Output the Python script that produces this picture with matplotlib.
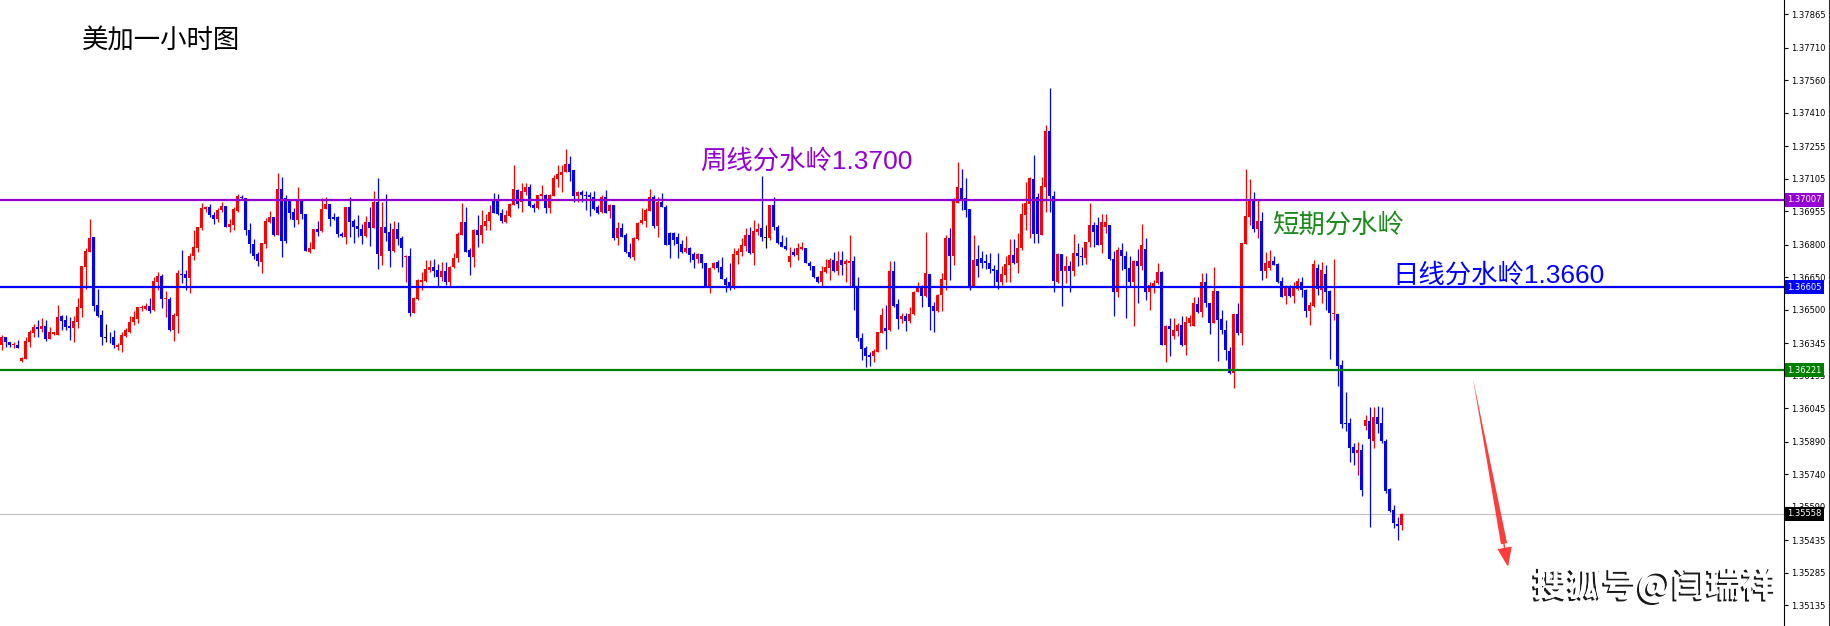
import matplotlib
matplotlib.use('Agg')
import matplotlib.pyplot as plt
import matplotlib.patheffects as pe
from matplotlib.lines import Line2D
import numpy as np

plt.rcParams['font.family'] = ['Noto Sans CJK SC', 'DejaVu Sans']

# 美加 1小时K线, 价格单位: 点 (0.00001)
opens = [
    136335, 136376, 136350, 136336, 136338, 136264, 136273, 136352, 136392, 136422,
    136412, 136427, 136367, 136387, 136384, 136472, 136453, 136427, 136418, 136445,
    136510, 136696, 136768, 136838, 136522, 136476, 136373, 136376, 136372, 136330,
    136335, 136381, 136399, 136445, 136456, 136507, 136505, 136518, 136499, 136630,
    136656, 136548, 136550, 136407, 136473, 136667, 136664, 136648, 136748, 136787,
    136876, 136967, 136974, 136939, 136918, 136961, 136979, 136882, 136891, 136958,
    137022, 137014, 136868, 136804, 136758, 136722, 136802, 136907, 136930, 136845,
    137057, 137014, 137010, 136953, 136914, 137010, 136942, 136768, 136779, 136873,
    136865, 136964, 136988, 136930, 136928, 136851, 136838, 136973, 136910, 136888,
    136873, 136842, 136907, 136879, 136999, 136748, 136884, 136858, 136773, 136873,
    136830, 136742, 136749, 136487, 136550, 136630, 136633, 136684, 136699, 136684,
    136653, 136679, 136626, 136696, 136738, 136845, 136907, 136776, 136745, 136868,
    136845, 136887, 136911, 137011, 137011, 136945, 136907, 136935, 136984, 137053,
    136999, 137045, 137065, 136984, 136971, 137025, 137030, 136971, 137025, 137104,
    137122, 137135, 137173, 137145, 137025, 137045, 137030, 137030, 137019, 136973,
    136953, 137022, 136958, 136984, 136833, 136876, 136845, 136768, 136745, 136827,
    136899, 136910, 136958, 137019, 136887, 136999, 136976, 136853, 136853, 136835,
    136804, 136765, 136784, 136756, 136733, 136756, 136715, 136607, 136692, 136719,
    136699, 136642, 136626, 136599, 136753, 136768, 136796, 136845, 136761, 136861,
    136876, 136835, 136830, 136984, 136884, 136812, 136795, 136722, 136768, 136753,
    136781, 136787, 136718, 136700, 136653, 136626, 136673, 136692, 136730, 136677,
    136730, 136710, 136718, 136726, 136607, 136369, 136323, 136292, 136287, 136307,
    136392, 136415, 136407, 136680, 136526, 136457, 136469, 136446, 136480, 136580,
    136600, 136564, 136666, 136518, 136492, 136566, 136638, 136833, 136750, 136995,
    137064, 137015, 136964, 136607, 136733, 136738, 136726, 136715, 136689, 136684,
    136627, 136661, 136707, 136753, 136715, 136784, 136938, 136989, 137104, 137020,
    136846, 137069, 137326, 137026, 136630, 136758, 136677, 136700, 136681, 136761,
    136750, 136741, 136812, 136892, 136889, 136797, 136884, 136889, 136735, 136584,
    136777, 136750, 136692, 136630, 136726, 136700, 136780, 136584, 136610, 136623,
    136673, 136335, 136426, 136381, 136400, 136430, 136335, 136438, 136427, 136527,
    136491, 136630, 136530, 136440, 136586, 136456, 136407, 136310, 136210, 136480,
    136394, 136803, 136929, 137009, 136872, 136909, 136680, 136691, 136725, 136710,
    136633, 136563, 136610, 136565, 136594, 136630, 136592, 136496, 136518, 136693,
    136592, 136666, 136587, 136480, 136481, 136246, 135976, 135976, 135866, 135838,
    135853, 135964, 135987, 135896, 136004, 135976, 135895, 135672, 135576, 135512, 135504,
]
highs = [
    136384, 136376, 136353, 136353, 136361, 136282, 136376, 136407, 136435, 136453,
    136464, 136453, 136422, 136399, 136522, 136476, 136476, 136468, 136472, 136553,
    136702, 136784, 136919, 136838, 136596, 136499, 136435, 136399, 136407, 136345,
    136399, 136415, 136472, 136492, 136515, 136522, 136533, 136553, 136653, 136676,
    136664, 136587, 136561, 136484, 136684, 136776, 136684, 136761, 136868, 136884,
    136991, 136981, 136987, 136953, 136971, 136999, 136979, 136918, 136973, 137033,
    137031, 137014, 136899, 136825, 136768, 136807, 136922, 136956, 136930, 137131,
    137115, 137030, 137010, 136968, 137068, 137010, 136942, 136815, 136873, 136910,
    137014, 137022, 136988, 136945, 136934, 136861, 136976, 137022, 136918, 136937,
    136894, 136933, 136976, 137048, 137110, 136999, 137033, 136899, 136910, 136907,
    136841, 136753, 136784, 136561, 136641, 136672, 136730, 136730, 136733, 136710,
    136722, 136722, 136702, 136761, 136861, 136995, 136973, 136784, 136871, 136938,
    136961, 136941, 136984, 137038, 137035, 136964, 136961, 136995, 137168, 137058,
    137084, 137087, 137081, 136992, 137030, 137076, 137035, 137033, 137122, 137168,
    137168, 137241, 137210, 137145, 137048, 137053, 137050, 137045, 137050, 136984,
    137030, 137053, 136987, 136984, 136907, 136899, 136853, 136807, 136838, 136904,
    136968, 136968, 137056, 137030, 137022, 137041, 136984, 136861, 136861, 136853,
    136822, 136841, 136789, 136768, 136761, 136758, 136715, 136699, 136722, 136730,
    136745, 136653, 136715, 136784, 136784, 136830, 136876, 136881, 136915, 136902,
    137118, 136891, 136984, 137019, 136891, 136845, 136838, 136792, 136784, 136810,
    136812, 136787, 136726, 136700, 136658, 136700, 136735, 136738, 136766, 136769,
    136769, 136735, 136843, 136746, 136653, 136392, 136331, 136307, 136318, 136395,
    136510, 136523, 136726, 136726, 136549, 136487, 136484, 136512, 136587, 136626,
    136615, 136858, 136666, 136538, 136572, 136669, 136846, 136876, 137018, 137184,
    137149, 137110, 136964, 136843, 136800, 136769, 136757, 136761, 136707, 136761,
    136700, 136746, 136827, 136827, 136853, 136992, 137092, 137115, 137215, 137038,
    137112, 137353, 137522, 137046, 136761, 136758, 136746, 136723, 136850, 136807,
    136792, 136815, 136992, 136907, 136930, 136943, 136943, 136889, 136769, 136792,
    136807, 136769, 136746, 136730, 136781, 136896, 136830, 136626, 136638, 136718,
    136677, 136430, 136461, 136461, 136438, 136469, 136469, 136477, 136558, 136561,
    136671, 136671, 136533, 136699, 136586, 136499, 136453, 136330, 136480, 136530,
    136806, 137152, 137102, 137045, 137006, 136952, 136768, 136776, 136748, 136714,
    136653, 136614, 136614, 136630, 136645, 136652, 136595, 136538, 136730, 136712,
    136721, 136707, 136592, 136735, 136481, 136269, 136122, 135999, 135887, 135889,
    135881, 136015, 136049, 136053, 136056, 136053, 135903, 135676, 135599, 135545, 135561,
]
lows = [
    136315, 136330, 136330, 136322, 136322, 136261, 136273, 136330, 136376, 136376,
    136399, 136356, 136365, 136384, 136384, 136407, 136407, 136361, 136353, 136415,
    136468, 136596, 136768, 136492, 136468, 136335, 136349, 136345, 136322, 136315,
    136307, 136376, 136392, 136430, 136438, 136495, 136499, 136484, 136492, 136592,
    136507, 136468, 136402, 136356, 136392, 136622, 136592, 136579, 136730, 136765,
    136868, 136953, 136930, 136894, 136907, 136953, 136884, 136858, 136868, 136953,
    137007, 136845, 136764, 136733, 136702, 136668, 136784, 136899, 136842, 136845,
    136745, 136807, 136919, 136884, 136894, 136919, 136773, 136761, 136779, 136842,
    136861, 136964, 136888, 136914, 136838, 136838, 136802, 136838, 136810, 136838,
    136802, 136838, 136796, 136879, 136687, 136707, 136818, 136699, 136768, 136799,
    136699, 136630, 136473, 136484, 136545, 136592, 136630, 136676, 136653, 136610,
    136633, 136612, 136610, 136692, 136722, 136845, 136768, 136661, 136699, 136792,
    136807, 136868, 136868, 136945, 136938, 136899, 136902, 136930, 136984, 136968,
    136953, 137030, 136973, 136953, 136964, 137007, 136948, 136945, 137025, 137068,
    137045, 137135, 137095, 136999, 136999, 136999, 136961, 136935, 136961, 136942,
    136948, 136945, 136922, 136822, 136799, 136835, 136764, 136741, 136730, 136822,
    136896, 136881, 136958, 136876, 136838, 136973, 136799, 136738, 136799, 136738,
    136764, 136761, 136722, 136692, 136718, 136692, 136607, 136579, 136687, 136672,
    136641, 136584, 136589, 136596, 136712, 136749, 136773, 136758, 136707, 136845,
    136819, 136784, 136822, 136868, 136804, 136789, 136776, 136699, 136749, 136730,
    136777, 136715, 136684, 136646, 136623, 136610, 136669, 136638, 136673, 136661,
    136661, 136630, 136607, 136500, 136354, 136269, 136238, 136241, 136257, 136303,
    136392, 136318, 136403, 136515, 136410, 136438, 136400, 136441, 136477, 136580,
    136515, 136561, 136407, 136397, 136489, 136492, 136592, 136638, 136707, 136995,
    136961, 136926, 136592, 136607, 136649, 136692, 136687, 136669, 136610, 136597,
    136615, 136630, 136630, 136712, 136669, 136777, 136869, 136830, 136810, 136810,
    136846, 136953, 136953, 136580, 136623, 136518, 136623, 136584, 136657, 136703,
    136707, 136710, 136792, 136792, 136797, 136764, 136853, 136730, 136469, 136561,
    136684, 136461, 136607, 136426, 136530, 136684, 136546, 136500, 136577, 136620,
    136335, 136257, 136287, 136364, 136377, 136331, 136292, 136423, 136427, 136484,
    136468, 136514, 136387, 136437, 136265, 136387, 136268, 136202, 136137, 136383,
    136337, 136803, 136891, 136860, 136832, 136637, 136645, 136683, 136706, 136622,
    136557, 136525, 136557, 136533, 136591, 136561, 136468, 136430, 136515, 136569,
    136530, 136499, 136273, 136453, 136149, 135956, 135938, 135795, 135784, 135738,
    135641, 135946, 135499, 135864, 135933, 135887, 135653, 135564, 135492, 135438, 135484,
]
closes = [
    136376, 136349, 136335, 136341, 136325, 136279, 136356, 136396, 136422, 136413,
    136427, 136365, 136396, 136395, 136468, 136450, 136422, 136418, 136448, 136513,
    136702, 136771, 136833, 136519, 136472, 136376, 136373, 136373, 136338, 136338,
    136384, 136407, 136442, 136468, 136512, 136515, 136518, 136496, 136633, 136656,
    136548, 136552, 136407, 136476, 136668, 136661, 136648, 136748, 136790, 136882,
    136968, 136974, 136937, 136918, 136961, 136979, 136884, 136898, 136964, 137025,
    137016, 136868, 136802, 136748, 136725, 136807, 136910, 136930, 136845, 137057,
    136819, 136819, 136947, 136914, 137010, 136942, 136773, 136784, 136873, 136861,
    136965, 136988, 136918, 136918, 136848, 136841, 136974, 136907, 136884, 136871,
    136842, 136907, 136879, 136999, 136756, 136884, 136853, 136773, 136873, 136825,
    136784, 136749, 136484, 136553, 136638, 136638, 136688, 136699, 136681, 136653,
    136679, 136630, 136699, 136741, 136850, 136907, 136768, 136745, 136868, 136845,
    136891, 136911, 136953, 136948, 136941, 136911, 136938, 136988, 137058, 136987,
    137050, 137068, 136979, 136968, 137030, 137035, 136968, 137030, 137107, 137125,
    137138, 137173, 137138, 137025, 137045, 137030, 137025, 137019, 136964, 136948,
    137022, 136948, 136984, 136830, 136876, 136838, 136768, 136745, 136830, 136899,
    136915, 136961, 137019, 136887, 136999, 136976, 136799, 136799, 136822, 136804,
    136768, 136787, 136753, 136730, 136756, 136715, 136607, 136695, 136715, 136692,
    136642, 136612, 136599, 136758, 136773, 136799, 136845, 136764, 136864, 136871,
    136835, 136835, 136984, 136884, 136807, 136792, 136779, 136749, 136753, 136787,
    136789, 136718, 136700, 136650, 136630, 136677, 136697, 136730, 136677, 136727,
    136707, 136723, 136726, 136607, 136369, 136318, 136287, 136284, 136311, 136395,
    136477, 136400, 136680, 136518, 136457, 136469, 136446, 136480, 136584, 136600,
    136564, 136669, 136515, 136492, 136569, 136643, 136833, 136750, 137000, 137069,
    137003, 136961, 136607, 136730, 136700, 136718, 136715, 136687, 136680, 136630,
    136664, 136712, 136753, 136715, 136784, 136943, 136995, 137107, 136850, 136850,
    137072, 137326, 137023, 136633, 136758, 136677, 136700, 136681, 136761, 136746,
    136743, 136815, 136892, 136857, 136797, 136904, 136904, 136733, 136584, 136777,
    136746, 136687, 136630, 136726, 136700, 136800, 136580, 136612, 136623, 136673,
    136335, 136426, 136410, 136407, 136430, 136335, 136443, 136461, 136530, 136489,
    136630, 136530, 136437, 136586, 136453, 136407, 136314, 136210, 136480, 136394,
    136806, 136932, 137009, 136872, 136909, 136680, 136714, 136725, 136706, 136630,
    136560, 136606, 136565, 136599, 136633, 136592, 136496, 136522, 136712, 136595,
    136684, 136584, 136484, 136487, 136241, 135973, 135973, 135864, 135838, 135853,
    135669, 135992, 135904, 136004, 135973, 135892, 135665, 135573, 135515, 135503, 135558,
]

week_line = 1.37007   # 周线分水岭
day_line = 1.36605    # 日线分水岭
short_line = 1.36221  # 短期分水岭
last_price = 1.35558

yticks = [1.37865, 1.37710, 1.37560, 1.37410, 1.37255, 1.37105, 1.36955, 1.36800,
          1.36650, 1.36500, 1.36345, 1.36195, 1.36045, 1.35890, 1.35740, 1.35590,
          1.35435, 1.35285, 1.35135]

o = np.array(opens) / 1e5
h = np.array(highs) / 1e5
l = np.array(lows) / 1e5
c = np.array(closes) / 1e5
x = np.arange(len(o))

fig = plt.figure(figsize=(18.31, 6.26), dpi=100)
ax = fig.add_axes([0, 0, 1784 / 1831, 1])

cols = np.where(c > o, '#FF0000', np.where(c < o, '#0000FF', '#000000'))
ax.vlines(x, l, h, colors=cols, lw=0.9, zorder=2)
body_h = np.maximum(np.abs(c - o), 0.00004)
mid = (o + c) / 2
ax.bar(x, body_h, bottom=mid - body_h / 2, width=0.72, color=cols, linewidth=0, zorder=2)

# 水平线
ax.axhline(last_price, color='#C0C0C0', lw=0.8, zorder=1)
ax.axhline(week_line, color='#9400D3', lw=1.6, zorder=3)
ax.axhline(day_line, color='#0000FF', lw=1.6, zorder=3)
ax.axhline(short_line, color='#008000', lw=1.6, zorder=3)

ax.set_xlim(-0.42, 445.6)
ax.set_ylim(1.35040, 1.37930)
ax.set_xticks([])
ax.yaxis.tick_right()
ax.set_yticks(yticks)
ax.set_yticklabels([f'{v:.5f}' for v in yticks], family='DejaVu Sans')
ax.tick_params(axis='y', direction='out', length=3, width=0.8, pad=2, labelsize=6)
for s in ['top', 'left', 'bottom']:
    ax.spines[s].set_visible(False)
ax.spines['right'].set_linewidth(0.8)

# 右侧价格标签
for val, col in [(week_line, '#9400D3'), (day_line, '#0000FF'),
                 (short_line, '#008000'), (last_price, '#000000')]:
    ax.text(1.0017, val, f'{val:.5f}', transform=ax.get_yaxis_transform(),
            ha='left', va='center', fontsize=6, color='white', family='DejaVu Sans',
            bbox=dict(boxstyle='square,pad=0.3', fc=col, ec='none'),
            zorder=5, clip_on=False)

fig.add_artist(Line2D([1829 / 1831] * 2, [0, 1], transform=fig.transFigure,
                      color='#333333', lw=0.8))

# 文字
fig.text(82 / 1831, 1 - 41 / 626, '美加一小时图', fontsize=19, ha='left', va='center',
         color='black', fontweight='light')
ax.text(174.6, 1.37187, '周线分水岭1.3700', family=['Liberation Sans', 'Noto Sans CJK SC'],
        fontsize=19, color='#9400D3', ha='left', va='center', zorder=4)
ax.text(317.6, 1.36889, '短期分水岭', fontsize=19, color='#1a8a1a',
        ha='left', va='center', zorder=4)
ax.text(347.6, 1.36661, '日线分水岭1.3660', family=['Liberation Sans', 'Noto Sans CJK SC'],
        fontsize=19, color='#0000FF', ha='left', va='center', zorder=4)

# 红色箭头 (渐粗箭身 + 箭头)
ax.annotate('', xy=(367.8, 1.36186), xytext=(375.6, 1.35420),
            arrowprops=dict(arrowstyle='wedge,tail_width=0.45,shrink_factor=0.5',
                            fc='#FF3B3B', ec='none', shrinkA=0, shrinkB=0), zorder=4)
ax.annotate('', xy=(376.6, 1.35313), xytext=(374.6, 1.35520),
            arrowprops=dict(arrowstyle='-|>,head_length=1.2,head_width=0.45',
                            color='#FF3B3B', lw=1.0, shrinkA=0, shrinkB=0), zorder=4)

# 水印
fig.text(1533 / 1831, 1 - 585 / 626, '搜狐号@闫瑞祥', fontsize=25, fontweight='bold',
         color='white', ha='left', va='center',
         path_effects=[pe.withSimplePatchShadow(offset=(-1.5, -1.5), shadow_rgbFace='black', alpha=0.9),
                       pe.Normal()])

fig.savefig('out.png', dpi=100)
